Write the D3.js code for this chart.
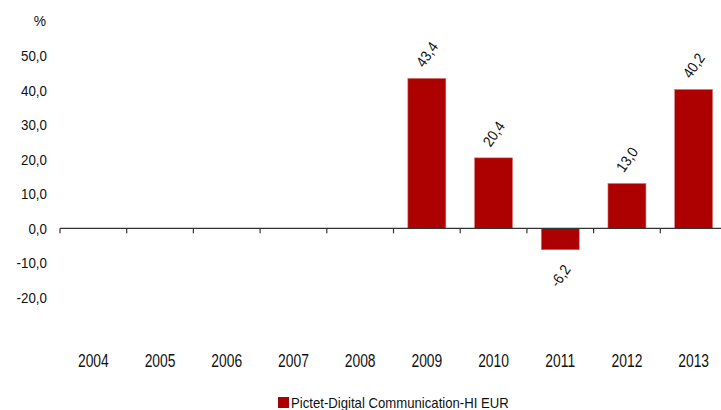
<!DOCTYPE html>
<html>
<head>
<meta charset="utf-8">
<script src="https://cdn.jsdelivr.net/npm/d3@7"></script>
<style>
  body { margin: 0; background: #fff; }
  text { font-family: "Liberation Sans", Arial, sans-serif; fill: #111; }
</style>
</head>
<body>
<div id="chart"></div>
<script>
// data
var years = ["2004", "2005", "2006", "2007", "2008", "2009", "2010", "2011", "2012", "2013"];
var returns = [null, null, null, null, null, 43.4, 20.4, -6.2, 13.0, 40.2];
var yTicks = [-20, -10, 0, 10, 20, 30, 40, 50];
var seriesName = "Pictet-Digital Communication-HI EUR";

var width = 721, height = 410;

var svg = d3.select("#chart").append("svg")
    .attr("width", width)
    .attr("height", height);

var x = d3.scaleBand()
    .domain(years)
    .range([60, 727])
    .paddingInner(0.43)
    .paddingOuter(0.215);

var y = d3.scaleLinear()
    .domain([-30, 60])
    .range([332, 21]);

// comma decimals, plain hyphen for minus
var fmt = function(v) { return d3.format(".1f")(v).replace(".", ",").replace("\u2212", "-"); };

// condensed look: squeeze text horizontally
function squeeze(px, py, sx) { return "translate(" + px + "," + py + ") scale(" + sx + ",1)"; }

// y labels
svg.append("g").selectAll("text")
    .data(yTicks)
    .enter().append("text")
    .attr("transform", function(d) { return squeeze(47, y(d), 0.89); })
    .attr("dy", "0.36em")
    .attr("text-anchor", "end")
    .attr("font-size", 15)
    .text(fmt);

svg.append("text")
    .attr("transform", squeeze(40, 26, 0.92))
    .attr("text-anchor", "middle")
    .attr("font-size", 15)
    .text("%");

// bars
var data = years.map(function(d, i) { return {year: d, value: returns[i]}; })
    .filter(function(d) { return d.value !== null; });

svg.append("g").selectAll("rect")
    .data(data)
    .enter().append("rect")
    .attr("x", function(d) { return x(d.year); })
    .attr("y", function(d) { return y(Math.max(0, d.value)); })
    .attr("width", x.bandwidth())
    .attr("height", function(d) { return Math.abs(y(d.value) - y(0)); })
    .attr("fill", "#ad0000")
    .attr("stroke", "#d98080")
    .attr("stroke-width", 0.6);

// zero axis with ticks at category boundaries
var axis = svg.append("g");
axis.append("line")
    .attr("x1", 60).attr("x2", 727)
    .attr("y1", y(0)).attr("y2", y(0))
    .attr("stroke", "#333").attr("stroke-width", 1.2);

axis.selectAll(".tick")
    .data(years)
    .enter().append("line")
    .attr("x1", function(d) { return x(d) - x.step() * 0.215; })
    .attr("x2", function(d) { return x(d) - x.step() * 0.215; })
    .attr("y1", y(0))
    .attr("y2", y(0) + 5)
    .attr("stroke", "#333").attr("stroke-width", 1.2);

// x labels
svg.append("g").selectAll("text")
    .data(years)
    .enter().append("text")
    .attr("transform", function(d) { return squeeze(x(d) + x.bandwidth() / 2, 366.5, 0.75); })
    .attr("text-anchor", "middle")
    .attr("font-size", 18.5)
    .text(function(d) { return d; });

// value labels, rotated
svg.append("g").selectAll("text")
    .data(data)
    .enter().append("text")
    .attr("transform", function(d) {
      var cx = x(d.year) + x.bandwidth() / 2;
      var cy = d.value >= 0 ? y(d.value) - 24 : y(d.value) + 26;
      return "translate(" + cx + "," + cy + ") rotate(-55) scale(0.9,1)";
    })
    .attr("text-anchor", "middle")
    .attr("dy", "0.36em")
    .attr("font-size", 15)
    .text(function(d) { return fmt(d.value); });

// legend
var legend = svg.append("g");
legend.append("rect")
    .attr("x", 278).attr("y", 397)
    .attr("width", 11).attr("height", 11)
    .attr("fill", "#ad0000");
legend.append("text")
    .attr("transform", squeeze(291, 408, 0.94))
    .attr("font-size", 14)
    .text(seriesName);
</script>
</body>
</html>
